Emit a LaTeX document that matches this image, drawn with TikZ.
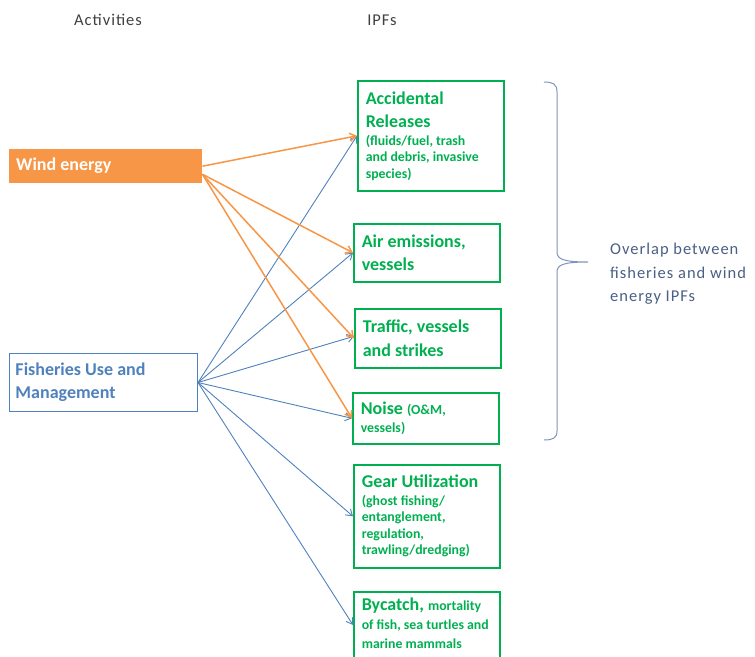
\documentclass[tikz,border=0pt]{standalone}
\usepackage{fontspec}
\setmainfont{Carlito}
\newfontfamily\spacedfont[LetterSpace=6]{Carlito}
\usetikzlibrary{arrows.meta}
\definecolor{ipfgreen}{HTML}{00B050}
\definecolor{windorange}{HTML}{F79646}
\definecolor{fishblue}{HTML}{4F81BD}
\definecolor{bracecol}{HTML}{7F93BF}
\definecolor{notecol}{HTML}{4A5F85}
\definecolor{headcol}{HTML}{404040}
\newcommand{\bgtxt}{\fontsize{18}{23.5}\selectfont}
\newcommand{\smtxt}{\fontsize{13.8}{16.5}\selectfont}
\tikzset{
  ipf/.style={draw=ipfgreen, line width=1.6pt, text=ipfgreen, font=\bfseries\bgtxt,
    anchor=north west, align=flush left, text width=130pt, inner xsep=8pt, inner ysep=4pt},
  windarrow/.style={draw=windorange, line width=1.5pt, -{Straight Barb[length=6pt,width=8pt]}},
  fisharrow/.style={draw=fishblue, line width=0.9pt, -{Straight Barb[length=6pt,width=8pt]}},
  head/.style={text=headcol, font=\spacedfont\fontsize{16.5}{20}\selectfont}
}
\begin{document}
\begin{tikzpicture}[x=1pt,y=-1pt]
\useasboundingbox (0,0) rectangle (755,656);
\clip (0,0) rectangle (755,656);
\node[head] (hact) at (108,20) {Activities};
\node[head] (hipf) at (382,20) {IPFs};

\node[fill=windorange, text=white, font=\bfseries\fontsize{18}{22}\selectfont, anchor=north west,
  minimum width=193pt, minimum height=34pt, align=flush left, text width=179pt, inner xsep=7pt] (wind) at (9,149) {Wind energy};
\node[draw=fishblue, line width=1pt, text=fishblue, font=\bfseries\fontsize{18}{23}\selectfont, anchor=north west,
  minimum width=187pt, minimum height=58pt, align=flush left, text width=176pt, inner xsep=6pt] (fish) at (9,353) {Fisheries Use and\\Management};

\node[ipf, minimum height=110pt] (acc) at (357,80)
  {Accidental\\Releases\par\vspace{1pt}{\smtxt (fluids/fuel, trash\\and debris, invasive\\species)\par}};
\node[ipf, minimum height=58pt] (air) at (353,223) {Air emissions,\\vessels};
\node[ipf, minimum height=59pt] (traf) at (354,308) {Traffic, vessels\\and strikes};
\node[ipf, minimum height=51pt] (noise) at (352,392)
  {Noise {\smtxt (O\&M,}\par\vspace{1pt}{\smtxt vessels)\par}};
\node[ipf, minimum height=103pt] (gear) at (353,464)
  {Gear Utilization\par\vspace{1pt}{\smtxt (ghost fishing/\\entanglement,\\regulation,\\trawling/dredging)\par}};
\node[ipf, inner ysep=6pt] (byc) at (353,591)
  {Bycatch, {\smtxt mortality}\par{\fontsize{13.8}{19}\selectfont of fish, sea turtles and\\marine mammals\par}\vspace*{14pt}};

\draw[fisharrow] (fish.east) -- (acc.west);
\draw[fisharrow] (fish.east) -- (air.west);
\draw[fisharrow] (fish.east) -- ([yshift=2pt]traf.west);
\draw[fisharrow] (fish.east) -- (noise.west);
\draw[fisharrow] (fish.east) -- (gear.west);
\draw[fisharrow] (fish.east) -- ([yshift=-34pt]byc.north west);

\draw[windarrow] (wind.east) -- (acc.west);
\draw[windarrow] ([yshift=-8pt]wind.east) -- (air.west);
\draw[windarrow] ([yshift=-8pt]wind.east) -- (traf.west);
\draw[windarrow] ([yshift=-8pt]wind.east) -- (noise.west);

\draw[bracecol, line width=1pt] (544,82) .. controls (553,82) and (557,84) .. (557,92) -- (557,252)
  .. controls (557,259) and (563,262) .. (588,262)
  .. controls (563,262) and (557,265) .. (557,272) -- (557,431)
  .. controls (557,438) and (553,440) .. (544,440);
\node[text=notecol, font=\spacedfont\fontsize{16.5}{23.5}\selectfont, anchor=north west, align=left, inner sep=0pt] (note) at (610,243)
  {Overlap between\\fisheries and wind\\energy IPFs};
\end{tikzpicture}
\end{document}
